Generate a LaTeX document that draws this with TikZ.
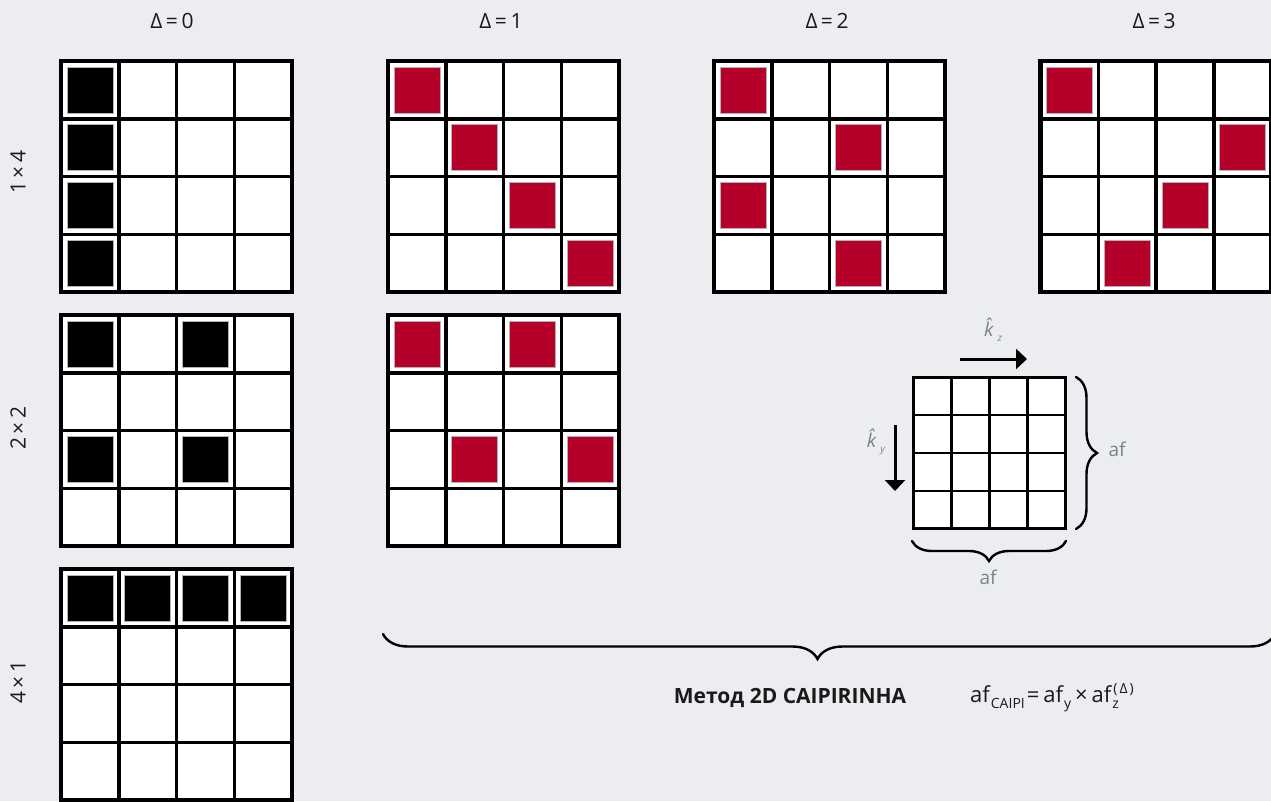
\documentclass[tikz,border=0pt]{standalone}
\usepackage{fontspec}
\setmainfont{Open Sans}
\usetikzlibrary{decorations.pathreplacing,arrows.meta}
\definecolor{bg}{HTML}{ECEDF1}
\definecolor{cred}{HTML}{B5002A}
\definecolor{lbl}{HTML}{7A818C}
\definecolor{txt}{HTML}{1A1A1A}
\newcommand{\drawgrid}[4]{%
  \fill[white] (#1,#2) rectangle ++(231,231);
  \foreach \c/\r in {#4}{%
    \filldraw[fill=#3,draw=black!30,line width=0.6] ({#1+(\c+0.5)*57.75-23},{#2+(\r+0.5)*57.75-23}) rectangle ++(46,46);
  }
  \foreach \i in {1,2,3}{%
    \draw[line width=3.5] ({#1+\i*57.75},#2) -- ++(0,231);
    \draw[line width=3.5] (#1,{#2+\i*57.75}) -- ++(231,0);
  }
  \draw[line width=4.2] (#1,#2) rectangle ++(231,231);
}
\newcommand{\subtxt}[1]{\raisebox{-6.6pt}{\fontsize{14}{14}\selectfont #1}}
\newcommand{\suptxt}[1]{\raisebox{9pt}{\fontsize{14}{14}\selectfont #1}}
\tikzset{
  head/.style={font=\fontsize{21}{24}\selectfont, text=txt, inner sep=0pt},
  rowlbl/.style={font=\fontsize{21}{24}\selectfont, text=txt, inner sep=0pt, rotate=90},
  graylbl/.style={font=\fontsize{19}{22}\selectfont, text=lbl, inner sep=0pt},
  bracestyle/.style={decorate, line width=2.4, line cap=round},
  arr/.style={line width=3, -{Triangle[length=11pt,width=20pt]}}
}
\begin{document}
\begin{tikzpicture}[x=1pt,y=-1pt]
\useasboundingbox (0,0) rectangle (1271,801);
\fill[bg] (0,0) rectangle (1271,801);

% headers
\node[head] (h0) at (172,21) {Δ\,=\,0};
\node[head] (h1) at (501,21) {Δ\,=\,1};
\node[head] (h2) at (827,21) {Δ\,=\,2};
\node[head] (h3) at (1154,21) {Δ\,=\,3};

% row labels
\node[rowlbl] (r0) at (18,172) {1\,×\,4};
\node[rowlbl] (r1) at (18,428) {2\,×\,2};
\node[rowlbl] (r2) at (18,682) {4\,×\,1};

% grids
\drawgrid{61}{61}{black}{0/0,0/1,0/2,0/3}
\drawgrid{388}{61}{cred}{0/0,1/1,2/2,3/3}
\drawgrid{714}{61}{cred}{0/0,2/1,0/2,2/3}
\drawgrid{1040.5}{61}{cred}{0/0,3/1,2/2,1/3}
\drawgrid{61}{315}{black}{0/0,2/0,0/2,2/2}
\drawgrid{388}{315}{cred}{0/0,2/0,1/2,3/2}
\drawgrid{61}{569}{black}{0/0,1/0,2/0,3/0}

% small grid
\fill[white] (913.5,377.5) rectangle (1065.5,528.5);
\foreach \i in {1,2,3}{%
  \draw[line width=2.2] ({913.5+\i*38},377.5) -- ++(0,151);
  \draw[line width=2.2] (913.5,{377.5+\i*37.75}) -- ++(152,0);
}
\draw[line width=2.6] (913.5,377.5) rectangle (1065.5,528.5);

% arrows
\coordinate (kz0) at (960,359);
\coordinate (kz1) at (1027,359);
\coordinate (ky0) at (895,425);
\coordinate (ky1) at (895,491);
\draw[arr] (kz0) -- (kz1);
\draw[arr] (ky0) -- (ky1);
\node[graylbl] (kz) at (993,330) {\textit{\^{k}}\raisebox{-5pt}{\fontsize{10}{10}\selectfont\itshape z}};
\node[graylbl] (ky) at (876,442) {\textit{\^{k}}\raisebox{-5pt}{\fontsize{10}{10}\selectfont\itshape y}};

% braces
\coordinate (rb0) at (1076,377);
\coordinate (rb1) at (1076,529);
\draw[bracestyle, decoration={brace, amplitude=21pt}] (rb0) -- (rb1);
\coordinate (bb0) at (1066,541);
\coordinate (bb1) at (912,541);
\draw[bracestyle, decoration={brace, amplitude=20pt}] (bb0) -- (bb1);
\node[graylbl] (afr) at (1117,449) {af};
\node[graylbl] (afb) at (988,577) {af};

\coordinate (Bb0) at (1275,634);
\coordinate (Bb1) at (383,634);
\draw[bracestyle, decoration={brace, amplitude=25pt, aspect=0.5129}] (Bb0) -- (Bb1);

% title and formula
\node[font=\fontsize{21}{24}\selectfont\bfseries, text=txt, inner sep=0pt, anchor=base] (title) at (790,703) {Метод 2D CAIPIRINHA};
\node[font=\fontsize{22}{24}\selectfont, text=txt, inner sep=0pt, anchor=base west] (formula) at (970,702)
 {af\kern1pt\subtxt{CAIPI}\kern2pt=\kern4pt af\kern1pt\subtxt{y}\kern4pt×\kern4pt af\kern1pt\rlap{\subtxt{z}}\kern1pt\suptxt{(\kern2ptΔ\kern2pt)}};
\end{tikzpicture}
\end{document}
